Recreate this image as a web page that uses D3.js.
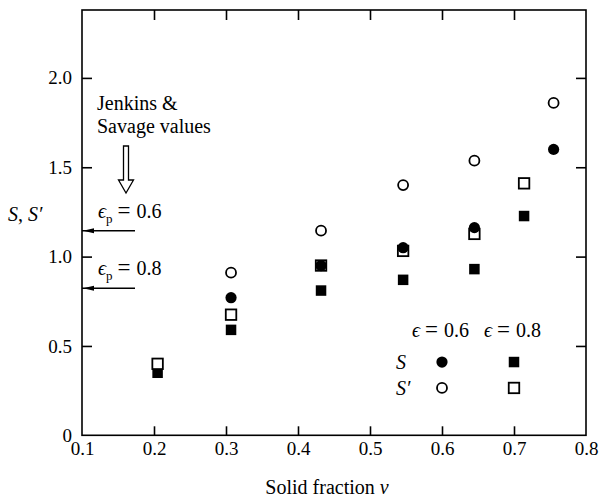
<!DOCTYPE html>
<html>
<head>
<meta charset="utf-8">
<script src="https://cdn.jsdelivr.net/npm/d3@7"></script>
<style>
  html, body { margin: 0; padding: 0; background: #fff; }
  svg { display: block; }
  text { font-family: "Liberation Serif", "Times New Roman", serif; fill: #000; }
</style>
</head>
<body>
<svg id="chart" width="600" height="498"></svg>
<script>
// ---- data ----
const nu = [0.205, 0.307, 0.432, 0.546, 0.645, 0.714, 0.755];
const S_e06  = [null, 0.77, 0.95, 1.05, 1.162, null, 1.60];   // filled circles
const Sp_e06 = [null, 0.91, 1.145, 1.40, 1.537, null, 1.86];  // open circles
const S_e08  = [0.35, 0.59, 0.81, 0.87, 0.93, 1.227, null];   // filled squares
const Sp_e08 = [0.40, 0.675, 0.95, 1.032, 1.127, 1.41, null]; // open squares
const xTicks = [0.1, 0.2, 0.3, 0.4, 0.5, 0.6, 0.7, 0.8];
const xTickLabels = ["0.1", "0.2", "0.3", "0.4", "0.5", "0.6", "0.7", "0.8"];
const yTicks = [0, 0.5, 1.0, 1.5, 2.0];
const yTickLabels = ["0", "0.5", "1.0", "1.5", "2.0"];
const jsValues = [1.145, 0.823];
const jsLabels = ["0.6", "0.8"];
const legendLabels = ["0.6", "0.8"];

// ---- scales ----
const svg = d3.select("#chart");
const x = d3.scaleLinear().domain([0.1, 0.8]).range([82, 586]);
const y = d3.scaleLinear().domain([0, 2.38]).range([435.3, 10]);
const FS = 19;

// axes
const gB = svg.append("g").attr("transform", `translate(0,${y(0)})`)
  .call(d3.axisBottom(x).tickValues(xTicks).tickFormat((d, i) => xTickLabels[i])
    .tickSizeInner(-9).tickSizeOuter(0).tickPadding(6.5));
const gL = svg.append("g").attr("transform", `translate(${x(0.1)},0)`)
  .call(d3.axisLeft(y).tickValues(yTicks).tickFormat((d, i) => yTickLabels[i])
    .tickSizeInner(-10).tickSizeOuter(0).tickPadding(10));
const gT = svg.append("g").attr("transform", `translate(0,${y.range()[1]})`)
  .call(d3.axisTop(x).tickValues(xTicks.slice(1, -1)).tickFormat("")
    .tickSizeInner(-10).tickSizeOuter(0));
const gR = svg.append("g").attr("transform", `translate(${x(0.8)},0)`)
  .call(d3.axisRight(y).tickValues(yTicks.slice(1)).tickFormat("")
    .tickSizeInner(-10).tickSizeOuter(0));
[gB, gL, gT, gR].forEach(g => {
  g.select(".domain").remove();
  g.selectAll(".tick line").attr("stroke", "#000").attr("stroke-width", 1.6);
  g.selectAll(".tick text").attr("font-size", FS)
    .attr("font-family", '"Liberation Serif", "Times New Roman", serif').attr("fill", "#000");
});
gB.selectAll(".tick line").filter(d => d === 0.1 || d === 0.8).remove();
gL.selectAll(".tick line").filter(d => d === 0).remove();

// frame
svg.append("rect")
  .attr("x", x(0.1)).attr("y", y.range()[1])
  .attr("width", x(0.8) - x(0.1)).attr("height", y(0) - y.range()[1])
  .attr("fill", "none").attr("stroke", "#000").attr("stroke-width", 1.6);

// axis titles
svg.append("text").attr("x", 327).attr("y", 494).attr("text-anchor", "middle")
  .attr("font-size", 20)
  .call(t => { t.append("tspan").text("Solid fraction "); t.append("tspan").attr("font-style", "italic").text("ν"); });
svg.append("text").attr("x", 8).attr("y", 221).attr("font-size", 20)
  .call(t => {
    t.append("tspan").attr("font-style", "italic").text("S");
    t.append("tspan").text(", ");
    t.append("tspan").attr("font-style", "italic").text("S′");
  });

// ---- markers ----
const R = 5, SQ = 10.5;
function pts(arr) { return nu.map((v, i) => ({ nu: v, val: arr[i] })).filter(d => d.val !== null); }

function drawSquares(data, filled) {
  svg.append("g").selectAll("rect").data(data).join("rect")
    .attr("x", d => x(d.nu) - SQ / 2).attr("y", d => y(d.val) - SQ / 2)
    .attr("width", SQ).attr("height", SQ)
    .attr("fill", filled ? "#000" : "#fff")
    .attr("stroke", "#000").attr("stroke-width", filled ? 0 : 1.8);
}
function drawCircles(data, filled) {
  svg.append("g").selectAll("circle").data(data).join("circle")
    .attr("cx", d => x(d.nu)).attr("cy", d => y(d.val))
    .attr("r", filled ? R + 0.6 : R)
    .attr("fill", filled ? "#000" : "#fff")
    .attr("stroke", "#000").attr("stroke-width", filled ? 0 : 1.8);
}
drawSquares(pts(S_e08), true);
drawSquares(pts(Sp_e08), false);
drawCircles(pts(Sp_e06), false);
drawCircles(pts(S_e06), true);

// equation text helper: ϵ [sub] = value
function eqText(t, sub, val) {
  t.append("tspan").attr("font-style", "italic").text("ϵ");
  if (sub) {
    t.append("tspan").attr("font-size", 13).attr("dy", 5).text(sub);
    t.append("tspan").attr("dy", -5).attr("dx", 5).attr("font-size", 23).text("=");
  } else {
    t.append("tspan").attr("dx", 5).attr("font-size", 23).text("=");
  }
  t.append("tspan").attr("dx", 6).text(val);
}

// ---- legend ----
const legX = [0.6, 0.7];
const legRows = [0.41, 0.265];
[0, 1].forEach(i => {
  const t = svg.append("text").attr("font-size", 20).attr("y", y(0.55))
    .attr("x", x(legX[i]) - 30);
  eqText(t, null, legendLabels[i]);
});
svg.append("text").attr("font-size", 20).attr("font-style", "italic")
  .attr("x", 396).attr("y", y(legRows[0]) + 7).text("S");
svg.append("text").attr("font-size", 20).attr("font-style", "italic")
  .attr("x", 396).attr("y", y(legRows[1]) + 7).text("S′");
svg.append("circle").attr("cx", x(legX[0])).attr("cy", y(legRows[0])).attr("r", R + 0.6).attr("fill", "#000");
svg.append("circle").attr("cx", x(legX[0])).attr("cy", y(legRows[1])).attr("r", R)
  .attr("fill", "#fff").attr("stroke", "#000").attr("stroke-width", 1.8);
svg.append("rect").attr("x", x(legX[1]) - SQ / 2).attr("y", y(legRows[0]) - SQ / 2)
  .attr("width", SQ).attr("height", SQ).attr("fill", "#000");
svg.append("rect").attr("x", x(legX[1]) - SQ / 2).attr("y", y(legRows[1]) - SQ / 2)
  .attr("width", SQ).attr("height", SQ).attr("fill", "#fff").attr("stroke", "#000").attr("stroke-width", 1.8);

// ---- Jenkins & Savage annotation ----
svg.append("text").attr("x", 97).attr("y", 110).attr("font-size", 20).text("Jenkins &");
svg.append("text").attr("x", 97).attr("y", 133).attr("font-size", 20).text("Savage values");
const ax = 126;
svg.append("path")
  .attr("d", `M${ax - 2.5},146 L${ax + 2.5},146 L${ax + 2.5},180 L${ax + 7.5},180 L${ax},193 L${ax - 7.5},180 L${ax - 2.5},180 Z`)
  .attr("fill", "#fff").attr("stroke", "#000").attr("stroke-width", 1.3);

jsValues.forEach((v, i) => {
  const yy = y(v);
  svg.append("line").attr("x1", x(0.1)).attr("x2", 135).attr("y1", yy).attr("y2", yy)
    .attr("stroke", "#000").attr("stroke-width", 1.4);
  svg.append("path").attr("d", `M${x(0.1) + 1},${yy} L${x(0.1) + 12},${yy - 2.5} L${x(0.1) + 12},${yy + 2.5} Z`)
    .attr("fill", "#000");
  const t = svg.append("text").attr("x", 98).attr("y", yy - 13).attr("font-size", 20);
  eqText(t, "p", jsLabels[i]);
});
</script>
</body>
</html>
